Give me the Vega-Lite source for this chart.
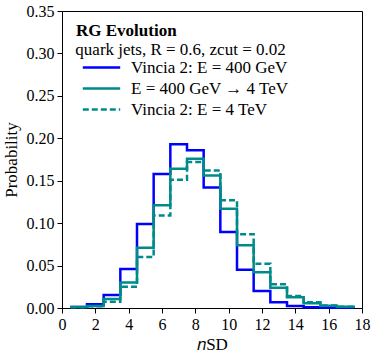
{
  "$schema": "https://vega.github.io/schema/vega-lite/v6.json",
  "width": 300,
  "height": 297,
  "autosize": {"type": "none"},
  "padding": {"left": 62, "top": 11, "right": 12, "bottom": 49},
  "background": "white",
  "config": {
    "font": "Liberation Serif",
    "view": {"stroke": "black", "strokeWidth": 1},
    "axis": {
      "grid": false,
      "domainColor": "black",
      "tickColor": "black",
      "tickSize": 5,
      "labelFontSize": 16,
      "labelColor": "black",
      "labelPadding": 3,
      "titleFontSize": 17,
      "titleFontWeight": "normal",
      "titleColor": "black"
    },
    "legend": {
      "orient": "none",
      "legendX": 14,
      "legendY": 12,
      "padding": 0,
      "titleFontSize": 17,
      "titleFontWeight": "bold",
      "titleColor": "black",
      "titlePadding": 19,
      "labelFontSize": 17,
      "labelColor": "black",
      "labelLimit": 300,
      "labelOffset": 21,
      "symbolType": "M-3.4,0H3.4",
      "symbolSize": 121,
      "symbolOffset": 17,
      "symbolStrokeWidth": 2.5,
      "rowPadding": 3
    }
  },
  "encoding": {
    "x": {
      "field": "x",
      "type": "quantitative",
      "scale": {"domain": [0, 18], "nice": false},
      "axis": {"values": [0, 2, 4, 6, 8, 10, 12, 14, 16, 18], "title": "𝑛SD", "labelOverlap": false, "labelFlush": false}
    },
    "y": {
      "field": "p",
      "type": "quantitative",
      "scale": {"domain": [0, 0.35], "nice": false},
      "axis": {"values": [0, 0.05, 0.1, 0.15, 0.2, 0.25, 0.3, 0.35], "format": ".2f", "title": "Probability", "titlePadding": 6, "labelOverlap": false, "labelFlush": false}
    }
  },
  "layer": [
    {
      "data": {
        "values": [
          {"s": "Vincia 2: E = 400 GeV", "x": 0.5, "p": 0.0012},
          {"s": "Vincia 2: E = 400 GeV", "x": 1.5, "p": 0.0043},
          {"s": "Vincia 2: E = 400 GeV", "x": 2.5, "p": 0.0153},
          {"s": "Vincia 2: E = 400 GeV", "x": 3.5, "p": 0.046},
          {"s": "Vincia 2: E = 400 GeV", "x": 4.5, "p": 0.099},
          {"s": "Vincia 2: E = 400 GeV", "x": 5.5, "p": 0.158},
          {"s": "Vincia 2: E = 400 GeV", "x": 6.5, "p": 0.193},
          {"s": "Vincia 2: E = 400 GeV", "x": 7.5, "p": 0.186},
          {"s": "Vincia 2: E = 400 GeV", "x": 8.5, "p": 0.142},
          {"s": "Vincia 2: E = 400 GeV", "x": 9.5, "p": 0.0895},
          {"s": "Vincia 2: E = 400 GeV", "x": 10.5, "p": 0.045},
          {"s": "Vincia 2: E = 400 GeV", "x": 11.5, "p": 0.020},
          {"s": "Vincia 2: E = 400 GeV", "x": 12.5, "p": 0.0067},
          {"s": "Vincia 2: E = 400 GeV", "x": 13.5, "p": 0.0024},
          {"s": "Vincia 2: E = 400 GeV", "x": 14.5, "p": 0.001},
          {"s": "Vincia 2: E = 400 GeV", "x": 15.5, "p": 0.0004},
          {"s": "Vincia 2: E = 400 GeV", "x": 16.5, "p": 0.0002},
          {"s": "Vincia 2: E = 400 GeV", "x": 17.5, "p": 0},
          {"s": "E = 400 GeV → 4 TeV", "x": 0.5, "p": 0.0012},
          {"s": "E = 400 GeV → 4 TeV", "x": 1.5, "p": 0.0024},
          {"s": "E = 400 GeV → 4 TeV", "x": 2.5, "p": 0.0106},
          {"s": "E = 400 GeV → 4 TeV", "x": 3.5, "p": 0.030},
          {"s": "E = 400 GeV → 4 TeV", "x": 4.5, "p": 0.071},
          {"s": "E = 400 GeV → 4 TeV", "x": 5.5, "p": 0.121},
          {"s": "E = 400 GeV → 4 TeV", "x": 6.5, "p": 0.164},
          {"s": "E = 400 GeV → 4 TeV", "x": 7.5, "p": 0.176},
          {"s": "E = 400 GeV → 4 TeV", "x": 8.5, "p": 0.156},
          {"s": "E = 400 GeV → 4 TeV", "x": 9.5, "p": 0.117},
          {"s": "E = 400 GeV → 4 TeV", "x": 10.5, "p": 0.074},
          {"s": "E = 400 GeV → 4 TeV", "x": 11.5, "p": 0.042},
          {"s": "E = 400 GeV → 4 TeV", "x": 12.5, "p": 0.024},
          {"s": "E = 400 GeV → 4 TeV", "x": 13.5, "p": 0.0126},
          {"s": "E = 400 GeV → 4 TeV", "x": 14.5, "p": 0.0055},
          {"s": "E = 400 GeV → 4 TeV", "x": 15.5, "p": 0.0027},
          {"s": "E = 400 GeV → 4 TeV", "x": 16.5, "p": 0.0014},
          {"s": "E = 400 GeV → 4 TeV", "x": 17.5, "p": 0},
          {"s": "Vincia 2: E = 4 TeV", "x": 0.5, "p": 0.001},
          {"s": "Vincia 2: E = 4 TeV", "x": 1.5, "p": 0.002},
          {"s": "Vincia 2: E = 4 TeV", "x": 2.5, "p": 0.0075},
          {"s": "Vincia 2: E = 4 TeV", "x": 3.5, "p": 0.025},
          {"s": "Vincia 2: E = 4 TeV", "x": 4.5, "p": 0.060},
          {"s": "Vincia 2: E = 4 TeV", "x": 5.5, "p": 0.109},
          {"s": "Vincia 2: E = 4 TeV", "x": 6.5, "p": 0.151},
          {"s": "Vincia 2: E = 4 TeV", "x": 7.5, "p": 0.172},
          {"s": "Vincia 2: E = 4 TeV", "x": 8.5, "p": 0.162},
          {"s": "Vincia 2: E = 4 TeV", "x": 9.5, "p": 0.127},
          {"s": "Vincia 2: E = 4 TeV", "x": 10.5, "p": 0.087},
          {"s": "Vincia 2: E = 4 TeV", "x": 11.5, "p": 0.052},
          {"s": "Vincia 2: E = 4 TeV", "x": 12.5, "p": 0.028},
          {"s": "Vincia 2: E = 4 TeV", "x": 13.5, "p": 0.014},
          {"s": "Vincia 2: E = 4 TeV", "x": 14.5, "p": 0.0067},
          {"s": "Vincia 2: E = 4 TeV", "x": 15.5, "p": 0.003},
          {"s": "Vincia 2: E = 4 TeV", "x": 16.5, "p": 0.0015},
          {"s": "Vincia 2: E = 4 TeV", "x": 17.5, "p": 0}
        ]
      },
      "mark": {"type": "line", "interpolate": "step-after", "strokeWidth": 2.5},
      "encoding": {
        "color": {
          "field": "s",
          "type": "nominal",
          "scale": {
            "domain": ["Vincia 2: E = 400 GeV", "E = 400 GeV → 4 TeV", "Vincia 2: E = 4 TeV"],
            "range": ["#0000ff", "#008b8b", "#008b8b"]
          },
          "legend": {"title": "RG Evolution"}
        },
        "strokeDash": {
          "field": "s",
          "type": "nominal",
          "scale": {
            "domain": ["Vincia 2: E = 400 GeV", "E = 400 GeV → 4 TeV", "Vincia 2: E = 4 TeV"],
            "range": [[1, 0], [1, 0], [6, 3]]
          },
          "legend": {"title": "RG Evolution"}
        }
      }
    },
    {
      "data": {"values": [{"t": "quark jets, R = 0.6, zcut = 0.02", "x": 0.8, "p": 0.2985}]},
      "mark": {"type": "text", "align": "left", "baseline": "alphabetic", "fontSize": 17, "color": "black"},
      "encoding": {
        "text": {"field": "t"}
      }
    }
  ]
}
